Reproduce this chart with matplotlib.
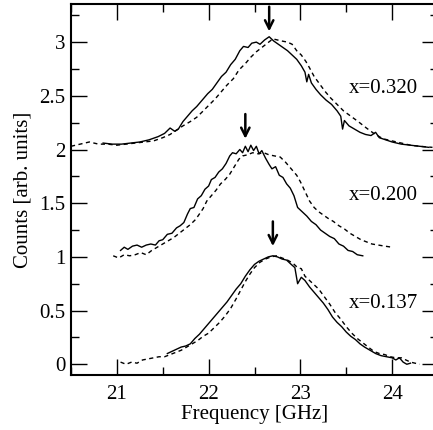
import numpy as np
import matplotlib
matplotlib.use("Agg")
import matplotlib.pyplot as plt
from matplotlib.ticker import MultipleLocator

plt.rcParams['font.family'] = ['Liberation Serif', 'DejaVu Serif']
plt.rcParams['mathtext.fontset'] = 'stix'

# offsets of the three samples (arb. units)
offsets = [0.0, 1.0, 2.0]
labels = ["x=0.137", "x=0.200", "x=0.320"]
peak_freq = [22.70, 22.40, 22.66]

# x=0.320, solid
top_solid = np.array([
    (20.85, 0.06), (20.95, 0.05), (21.05, 0.05), (21.15, 0.06), (21.25, 0.07),
    (21.35, 0.09), (21.45, 0.12), (21.52, 0.15), (21.58, 0.20), (21.63, 0.17),
    (21.67, 0.19), (21.72, 0.26), (21.78, 0.32), (21.82, 0.36), (21.87, 0.40),
    (21.93, 0.46), (21.99, 0.52), (22.04, 0.56), (22.09, 0.62), (22.14, 0.68),
    (22.19, 0.72), (22.24, 0.79), (22.29, 0.84), (22.34, 0.92), (22.38, 0.96),
    (22.43, 0.95), (22.47, 0.99), (22.52, 1.00), (22.56, 0.98), (22.61, 1.02),
    (22.66, 1.05), (22.71, 1.01), (22.76, 0.98), (22.81, 0.95), (22.86, 0.92),
    (22.91, 0.88), (22.96, 0.84), (23.01, 0.78), (23.05, 0.72), (23.07, 0.63),
    (23.09, 0.70), (23.12, 0.62), (23.17, 0.56), (23.22, 0.51), (23.28, 0.46),
    (23.34, 0.42), (23.40, 0.36), (23.44, 0.31), (23.46, 0.19), (23.48, 0.27),
    (23.53, 0.22), (23.59, 0.19), (23.65, 0.16), (23.71, 0.14), (23.77, 0.13),
    (23.82, 0.16), (23.86, 0.11), (23.93, 0.09), (24.00, 0.07), (24.10, 0.05),
    (24.20, 0.04), (24.30, 0.03), (24.40, 0.02),
])
# x=0.320, dashed
top_dashed = np.array([
    (20.50, 0.03), (20.60, 0.05), (20.70, 0.07), (20.80, 0.05), (20.90, 0.05),
    (21.00, 0.04), (21.10, 0.05), (21.20, 0.06), (21.30, 0.07), (21.40, 0.08),
    (21.50, 0.11), (21.58, 0.14), (21.65, 0.18), (21.72, 0.22), (21.80, 0.26),
    (21.87, 0.30), (21.93, 0.35), (22.00, 0.41), (22.07, 0.47), (22.13, 0.53),
    (22.20, 0.60), (22.27, 0.66), (22.33, 0.74), (22.40, 0.80), (22.46, 0.86),
    (22.52, 0.91), (22.58, 0.95), (22.64, 0.99), (22.70, 1.03), (22.75, 1.02),
    (22.80, 1.01), (22.86, 1.00), (22.91, 0.98), (22.96, 0.92), (23.01, 0.88),
    (23.06, 0.82), (23.10, 0.76), (23.15, 0.68), (23.21, 0.61), (23.27, 0.54),
    (23.33, 0.48), (23.40, 0.42), (23.47, 0.36), (23.55, 0.31), (23.63, 0.26),
    (23.72, 0.20), (23.80, 0.15), (23.90, 0.10), (24.00, 0.08), (24.10, 0.06),
    (24.20, 0.04), (24.30, 0.03), (24.44, 0.02),
])
# x=0.200, solid
mid_solid = np.array([
    (21.04, 0.06), (21.08, 0.09), (21.12, 0.07), (21.17, 0.10), (21.22, 0.11),
    (21.27, 0.09), (21.32, 0.11), (21.37, 0.12), (21.42, 0.11), (21.46, 0.15),
    (21.50, 0.16), (21.55, 0.21), (21.60, 0.22), (21.65, 0.27), (21.69, 0.29),
    (21.73, 0.32), (21.77, 0.40), (21.80, 0.45), (21.84, 0.46), (21.88, 0.54),
    (21.92, 0.57), (21.96, 0.63), (22.00, 0.66), (22.03, 0.72), (22.07, 0.74),
    (22.11, 0.79), (22.15, 0.82), (22.19, 0.87), (22.23, 0.94), (22.26, 0.97),
    (22.30, 0.96), (22.34, 1.00), (22.37, 0.97), (22.40, 1.03), (22.43, 0.98),
    (22.46, 1.04), (22.49, 0.99), (22.52, 1.03), (22.55, 0.96), (22.58, 0.99),
    (22.62, 0.92), (22.66, 0.86), (22.69, 0.82), (22.73, 0.84), (22.77, 0.76),
    (22.81, 0.74), (22.85, 0.68), (22.89, 0.64), (22.93, 0.57), (22.97, 0.46),
    (23.02, 0.42), (23.07, 0.38), (23.12, 0.33), (23.17, 0.30), (23.22, 0.25),
    (23.27, 0.22), (23.32, 0.19), (23.37, 0.17), (23.42, 0.12), (23.47, 0.10),
    (23.52, 0.06), (23.57, 0.05), (23.62, 0.02), (23.68, 0.01),
])
# x=0.200, dashed
mid_dashed = np.array([
    (20.96, 0.01), (21.02, -0.01), (21.08, 0.02), (21.14, 0.01), (21.20, 0.02),
    (21.26, 0.04), (21.32, 0.02), (21.38, 0.06), (21.44, 0.09), (21.50, 0.12),
    (21.56, 0.15), (21.62, 0.18), (21.68, 0.22), (21.74, 0.26), (21.80, 0.30),
    (21.86, 0.35), (21.90, 0.40), (21.94, 0.45), (21.98, 0.52), (22.03, 0.57),
    (22.08, 0.62), (22.13, 0.68), (22.18, 0.72), (22.23, 0.77), (22.28, 0.84),
    (22.33, 0.91), (22.37, 0.94), (22.42, 0.95), (22.48, 0.97), (22.54, 0.96),
    (22.60, 0.97), (22.66, 0.95), (22.72, 0.94), (22.78, 0.93), (22.84, 0.88),
    (22.90, 0.82), (22.96, 0.76), (23.00, 0.70), (23.05, 0.61), (23.10, 0.52),
    (23.15, 0.46), (23.20, 0.42), (23.25, 0.39), (23.30, 0.36), (23.36, 0.33),
    (23.42, 0.29), (23.48, 0.26), (23.54, 0.22), (23.60, 0.19), (23.66, 0.16),
    (23.72, 0.14), (23.78, 0.12), (23.85, 0.11), (23.92, 0.10), (24.00, 0.09),
])
# x=0.137, solid
low_solid = np.array([
    (21.55, 0.10), (21.60, 0.12), (21.65, 0.14), (21.70, 0.16), (21.75, 0.17),
    (21.80, 0.19), (21.85, 0.24), (21.90, 0.28), (21.95, 0.33), (22.00, 0.38),
    (22.05, 0.43), (22.10, 0.48), (22.15, 0.53), (22.20, 0.58), (22.25, 0.64),
    (22.30, 0.70), (22.35, 0.75), (22.40, 0.82), (22.45, 0.88), (22.50, 0.93),
    (22.55, 0.96), (22.60, 0.98), (22.65, 1.00), (22.70, 1.01), (22.75, 1.00),
    (22.80, 0.98), (22.85, 0.97), (22.90, 0.93), (22.94, 0.90), (22.97, 0.75),
    (23.01, 0.81), (23.05, 0.78), (23.10, 0.72), (23.15, 0.67), (23.20, 0.62),
    (23.25, 0.57), (23.30, 0.51), (23.35, 0.44), (23.40, 0.39), (23.45, 0.35),
    (23.50, 0.30), (23.55, 0.26), (23.60, 0.23), (23.65, 0.19), (23.70, 0.16),
    (23.76, 0.13), (23.82, 0.10), (23.88, 0.08), (23.94, 0.07), (24.00, 0.06),
    (24.04, 0.04), (24.08, 0.06), (24.12, 0.02), (24.16, 0.00), (24.20, 0.01),
])
# x=0.137, dashed
low_dashed = np.array([
    (21.04, 0.02), (21.10, 0.00), (21.16, 0.02), (21.22, 0.01), (21.28, 0.04),
    (21.34, 0.05), (21.40, 0.06), (21.46, 0.07), (21.52, 0.07), (21.58, 0.09),
    (21.64, 0.11), (21.70, 0.13), (21.76, 0.16), (21.82, 0.19), (21.88, 0.22),
    (21.94, 0.26), (22.00, 0.29), (22.06, 0.34), (22.12, 0.39), (22.18, 0.45),
    (22.24, 0.52), (22.30, 0.61), (22.35, 0.69), (22.40, 0.77), (22.45, 0.84),
    (22.50, 0.90), (22.56, 0.95), (22.62, 0.98), (22.68, 1.00), (22.74, 1.01),
    (22.80, 0.99), (22.86, 0.97), (22.92, 0.94), (22.97, 0.90), (23.01, 0.89),
    (23.05, 0.82), (23.10, 0.78), (23.15, 0.74), (23.20, 0.70), (23.26, 0.63),
    (23.32, 0.56), (23.38, 0.48), (23.44, 0.42), (23.50, 0.35), (23.56, 0.29),
    (23.62, 0.24), (23.68, 0.20), (23.74, 0.16), (23.80, 0.12), (23.86, 0.10),
    (23.92, 0.09), (23.98, 0.07), (24.04, 0.06), (24.10, 0.06), (24.15, 0.04),
    (24.20, 0.02), (24.25, 0.01), (24.30, 0.00),
])

solid_curves = [low_solid, mid_solid, top_solid]
dashed_curves = [low_dashed, mid_dashed, top_dashed]

fig = plt.figure(figsize=(4.33, 4.30), dpi=100)
ax = fig.add_axes([71 / 433, 55 / 430, 367 / 433, 371 / 430])

for k in range(3):
    s = solid_curves[k]
    d = dashed_curves[k]
    ax.plot(s[:, 0], s[:, 1] + offsets[k], color='black', lw=1.0)
    ax.plot(d[:, 0], d[:, 1] + offsets[k], color='black', lw=1.0, dashes=(3, 2.5))
    ax.text(24.28, offsets[k] + 0.57, labels[k], ha='right', va='center', fontsize=15)
    ax.annotate('', xy=(peak_freq[k], offsets[k] + 1.10), xytext=(peak_freq[k], offsets[k] + 1.33),
                arrowprops=dict(arrowstyle='->', lw=1.8, color='black', mutation_scale=15,
                                shrinkA=0, shrinkB=0))

ax.set_xlim(20.5, 24.5)
ax.set_ylim(-0.1, 3.355)
ax.xaxis.set_major_locator(MultipleLocator(1))
ax.xaxis.set_minor_locator(MultipleLocator(0.5))
ax.yaxis.set_major_locator(MultipleLocator(0.5))
ax.yaxis.set_minor_locator(MultipleLocator(0.25))
ax.set_yticks([0, 0.5, 1, 1.5, 2, 2.5, 3])
ax.set_yticklabels(['0', '0.5', '1', '1.5', '2', '2.5', '3'])
ax.tick_params(which='both', direction='in', top=True, right=True, width=1.0, labelsize=15)
ax.tick_params(which='major', length=11.5)
ax.tick_params(which='minor', length=5.8)
ax.tick_params(axis='x', pad=7)
ax.tick_params(axis='y', pad=4)
for sp in ax.spines.values():
    sp.set_linewidth(1.5)

ax.set_xlabel('Frequency [GHz]', fontsize=15, labelpad=1)
ax.set_ylabel('Counts [arb. units]', fontsize=15, labelpad=5)

fig.savefig('out.png', dpi=100)
